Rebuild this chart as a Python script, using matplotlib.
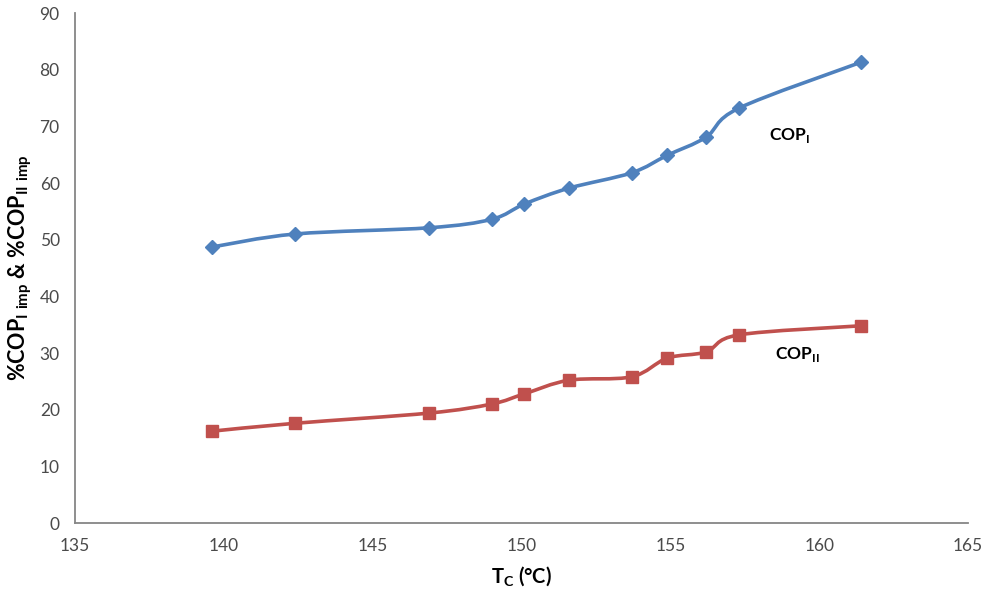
import numpy as np
import matplotlib
matplotlib.use("Agg")
import matplotlib.pyplot as plt
from matplotlib.path import Path
from matplotlib.patches import PathPatch

plt.rcParams['font.family'] = ['Lato', 'DejaVu Sans']
plt.rcParams['mathtext.fontset'] = 'custom'
plt.rcParams['mathtext.rm'] = 'Lato:bold'
plt.rcParams['mathtext.bf'] = 'Lato:bold'

tc = [139.6, 142.4, 146.9, 149.0, 150.1, 151.6, 153.7, 154.9, 156.2, 157.3, 161.4]
cop1 = [48.7, 51.0, 52.1, 53.6, 56.3, 59.1, 61.8, 64.9, 68.1, 73.2, 81.3]
cop2 = [16.2, 17.6, 19.4, 21.0, 22.8, 25.2, 25.8, 29.1, 30.2, 33.2, 34.8]

blue = "#4F81BD"
red = "#C0504D"


def smooth_path(x, y, t=1 / 6):
    # bezier through the points, like a spreadsheet "smoothed line"
    pts = np.column_stack([x, y]).astype(float)
    verts = [pts[0]]
    codes = [Path.MOVETO]
    n = len(pts)
    for i in range(n - 1):
        p0 = pts[max(i - 1, 0)]
        p1 = pts[i]
        p2 = pts[i + 1]
        p3 = pts[min(i + 2, n - 1)]
        c1 = p1 + (p2 - p0) * t
        c2 = p2 - (p3 - p1) * t
        verts += [c1, c2, p2]
        codes += [Path.CURVE4] * 3
    return Path(verts, codes)


fig, ax = plt.subplots(figsize=(9.84, 5.94), dpi=100)
fig.subplots_adjust(left=75 / 984, right=968 / 984, bottom=71 / 594, top=1 - 13 / 594)

for y, c, m, ms in [(cop1, blue, "D", 7.5), (cop2, red, "s", 9)]:
    ax.add_patch(PathPatch(smooth_path(tc, y), facecolor="none", edgecolor=c, lw=2.6, zorder=2))
    ax.plot(tc, y, linestyle="none", marker=m, ms=ms, color=c, zorder=3)

ax.set_xlim(135, 165)
ax.set_ylim(0, 90)
ax.set_xticks(np.arange(135, 166, 5))
ax.set_yticks(np.arange(0, 91, 10))
ax.tick_params(length=0, labelsize=12.5, labelcolor="#4a4a4a", pad=11)
for s in ["top", "right"]:
    ax.spines[s].set_visible(False)
for s in ["left", "bottom"]:
    ax.spines[s].set_color("#868686")
    ax.spines[s].set_linewidth(1.3)

ax.set_xlabel(r"T$_\mathrm{C}$ (°C)", fontsize=14.5, fontweight="bold", labelpad=7)
ax.set_ylabel(r"%COP$_{\mathrm{I\ imp}}$ & %COP$_{\mathrm{II\ imp}}$",
              fontsize=15.5, fontweight="bold", labelpad=4)

ax.text(158.3, 67.6, r"COP$_\mathrm{I}$", fontsize=12.5, fontweight="bold")
ax.text(158.5, 29.0, r"COP$_\mathrm{II}$", fontsize=12.5, fontweight="bold")

fig.savefig("out.png", dpi=100)
